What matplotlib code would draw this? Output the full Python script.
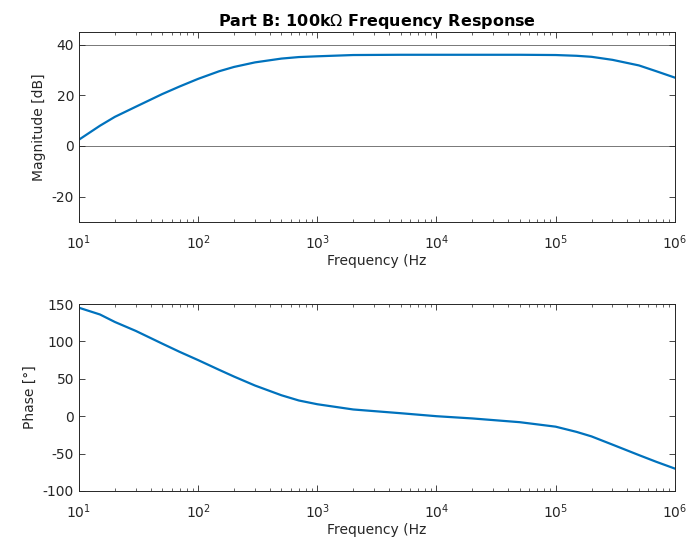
import numpy as np
import matplotlib
matplotlib.use("Agg")
import matplotlib.pyplot as plt
from matplotlib.ticker import LogLocator, NullFormatter, FixedLocator

# values
freq = [10, 15, 20, 30, 50, 70, 100, 150, 200, 300, 500, 700,
        1e3, 2e3, 5e3, 1e4, 2e4, 5e4, 1e5, 1.5e5, 2e5, 3e5, 5e5, 7e5, 1e6]
mag_db = [2.5, 8, 11.5, 15.5, 20.5, 23.5, 26.5, 29.5, 31.2, 33.0, 34.5, 35.1,
          35.4, 35.9, 36, 36, 36, 36, 35.9, 35.6, 35.2, 34.0, 31.8, 29.5, 27]
phase_deg = [145, 136, 126, 114, 97, 86, 75, 62, 53, 41, 28, 21,
             16, 9, 4, 0, -3, -8, -14, -21, -27, -38, -52, -61, -70]
ref_lines = [40, 0]

line_col = '#0072BD'
axis_col = '#262626'

plt.rcParams['font.family'] = 'DejaVu Sans'
plt.rcParams['font.size'] = 10
plt.rcParams['axes.unicode_minus'] = False

fig = plt.figure(figsize=(6.88, 5.42), dpi=100)
ax1 = fig.add_axes([0.1148, 0.5904, 0.866, 0.3506])
ax2 = fig.add_axes([0.1148, 0.0941, 0.866, 0.345])


def style_axis(ax):
    ax.set_xscale('log')
    ax.set_xlim(10, 1e6)
    ax.xaxis.set_major_locator(LogLocator(base=10, numticks=10))
    ax.xaxis.set_minor_locator(LogLocator(base=10, subs=np.arange(2, 10), numticks=20))
    ax.xaxis.set_minor_formatter(NullFormatter())
    ax.tick_params(which='both', direction='in', top=True, right=True,
                   colors=axis_col, labelcolor=axis_col, labelsize=10)
    ax.tick_params(which='major', length=4, width=0.6)
    ax.tick_params(axis='x', which='major', pad=8)
    ax.tick_params(which='minor', length=2.5, width=0.5)
    for s in ax.spines.values():
        s.set_color(axis_col)
        s.set_linewidth(0.7)
    ax.set_xlabel('Frequency (Hz', color=axis_col, labelpad=2)


ax1.plot(freq, mag_db, color=line_col, lw=1.6)
for y in ref_lines:
    ax1.axhline(y, color='#777777', lw=0.7, zorder=0)
style_axis(ax1)
ax1.set_ylim(-30, 45)
ax1.yaxis.set_major_locator(FixedLocator([-20, 0, 20, 40]))
ax1.set_ylabel('Magnitude [dB]', color=axis_col)
ax1.set_title('Part B: 100k$\\Omega$ Frequency Response', fontweight='bold',
              fontsize=11.5, color='black', pad=4)

ax2.plot(freq, phase_deg, color=line_col, lw=1.6)
style_axis(ax2)
ax2.set_ylim(-100, 150)
ax2.yaxis.set_major_locator(FixedLocator([-100, -50, 0, 50, 100, 150]))
ax2.set_ylabel('Phase [°]', color=axis_col)

fig.savefig('out.png', dpi=100)
